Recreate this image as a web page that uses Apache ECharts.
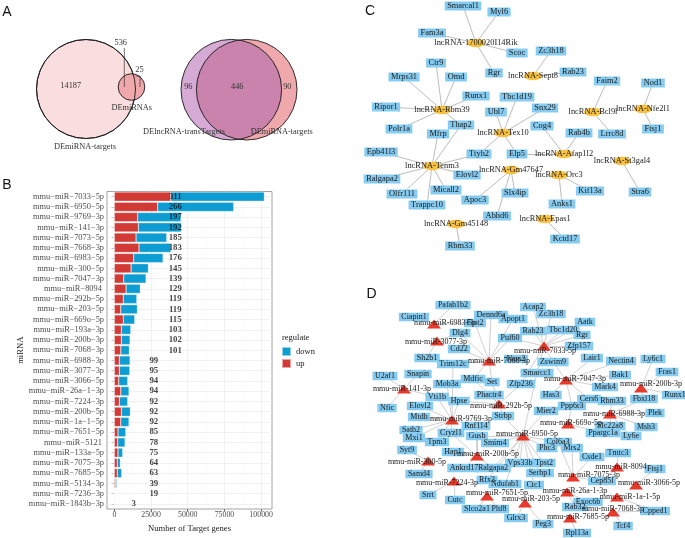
<!DOCTYPE html>
<html><head><meta charset="utf-8">
<script src="https://cdn.jsdelivr.net/npm/echarts@6/dist/echarts.min.js"></script>
<style>html,body{margin:0;padding:0;background:#fff}#c{width:685px;height:538px}</style>
</head><body><div id="c"></div>
<script>
// ---------- Panel B data ----------
const miRNAs = ['mmu−miR−7033−5p','mmu−miR−6950−5p','mmu−miR−9769−3p','mmu−miR−141−3p','mmu−miR−7073−5p','mmu−miR−7668−3p','mmu−miR−6983−5p','mmu−miR−300−5p','mmu−miR−7047−3p','mmu−miR−8094 ','mmu−miR−292b−5p','mmu−miR−203−5p','mmu−miR−669o−5p','mmu−miR−193a−3p','mmu−miR−200b−3p','mmu−miR−7068−3p','mmu−miR−6988−3p','mmu−miR−3077−3p','mmu−miR−3066−5p','mmu−miR−26a−1−3p','mmu−miR−7224−3p','mmu−miR−200b−5p','mmu−miR−1a−1−5p','mmu−miR−7651−5p','mmu−miR−5121 ','mmu−miR−133a−5p','mmu−miR−7075−3p','mmu−miR−7685−5p','mmu−miR−5134−3p','mmu−miR−7236−3p','mmu−miR−1843b−3p'];
const upCounts   = [38400,29500,15900,16400,14800,16800,13200,11400,6400,8000,6100,4400,6100,4800,4800,4400,3400,3400,3000,4400,3400,4800,4400,2500,2300,2500,2000,2000,700,300,0];
const downCounts = [63800,51800,29500,29200,20900,21800,20000,11800,15200,9700,9200,11300,7800,6400,5900,5800,7300,7100,6100,5600,5700,6100,5600,5300,5000,3200,2100,3000,900,200,200];
const targetLabels = [311,266,197,192,185,183,176,145,139,129,119,119,115,103,102,101,99,95,94,94,92,92,92,85,78,75,64,63,39,19,3];
const xTicks = [0,25000,50000,75000,100000];
const xGrid = [0,12500,25000,37500,50000,62500,75000,87500,100000];

// ---------- Panel A data ----------
const vennLeftCounts = [14187, 536, 25];
const vennLeftSets = ['DEmiRNA-targets','DEmiRNAs'];
const vennRightCounts = [96, 446, 90];
const vennRightSets = ['DElncRNA-transTargets','DEmiRNA-targets'];

// ---------- Panel C data ----------
const cLncRNAs = ['lncRNA-1700020I14Rik','lncRNA-Sept8','lncRNA-Rbm39','lncRNA-Tex10','lncRNA-Bcl9l','lncRNA-Nfe2l1','lncRNA-Afap1l2','lncRNA-St3gal4','lncRNA-Tenm3','lncRNA-Gm47647','lncRNA-Orc3','lncRNA-Gm45148','lncRNA-Epas1'];
const cLinks = [
 ['lncRNA-1700020I14Rik','Smarcal1'],['lncRNA-1700020I14Rik','Myl6'],['lncRNA-1700020I14Rik','Fam3a'],['lncRNA-1700020I14Rik','Scoc'],['lncRNA-1700020I14Rik','Rgr'],
 ['lncRNA-Sept8','Zc3h18'],['lncRNA-Sept8','Rab23'],
 ['lncRNA-Rbm39','Ctr9'],['lncRNA-Rbm39','Omd'],['lncRNA-Rbm39','Mrps31'],['lncRNA-Rbm39','Runx1'],['lncRNA-Rbm39','Ripor1'],['lncRNA-Rbm39','Polr1a'],['lncRNA-Rbm39','Thap2'],
 ['lncRNA-Tex10','Tbc1d19'],['lncRNA-Tex10','Ubl7'],['lncRNA-Tex10','Snx29'],['lncRNA-Tex10','Ttyh2'],['lncRNA-Tex10','Elp5'],
 ['lncRNA-Bcl9l','Faim2'],['lncRNA-Bcl9l','Lrrc8d'],
 ['lncRNA-Nfe2l1','Nod1'],['lncRNA-Nfe2l1','Ftsj1'],
 ['lncRNA-Afap1l2','Elp5'],['lncRNA-Afap1l2','Cog4'],['lncRNA-Afap1l2','Rab4b'],
 ['lncRNA-St3gal4','Stra6'],
 ['lncRNA-Tenm3','Mfrp'],['lncRNA-Tenm3','Thap2'],['lncRNA-Tenm3','Epb41l3'],['lncRNA-Tenm3','Ttyh2'],['lncRNA-Tenm3','Ralgapa2'],['lncRNA-Tenm3','Elovl2'],['lncRNA-Tenm3','Olfr111'],['lncRNA-Tenm3','Micall2'],['lncRNA-Tenm3','Trappc10'],
 ['lncRNA-Gm47647','Apoc3'],['lncRNA-Gm47647','Slx4ip'],['lncRNA-Gm47647','Abhd6'],
 ['lncRNA-Orc3','Kif13a'],['lncRNA-Orc3','Anks1'],
 ['lncRNA-Gm45148','Rbm33'],
 ['lncRNA-Epas1','Kctd17']
];

// ---------- Panel D data ----------
const dMiRNAs = ['mmu-miR-6983-5p','mmu-miR-3077-3p','mmu-miR-7668-3p','mmu-miR-7033-5p','mmu-miR-7047-3p','mmu-miR-200b-3p','mmu-miR-141-3p','mmu-miR-292b-5p','mmu-miR-9769-3p','mmu-miR-6988-3p','mmu-miR-669o-5p','mmu-miR-6950-5p','mmu-miR-200b-5p','mmu-miR-300-5p','mmu-miR-8094','mmu-miR-7075-3p','mmu-miR-3066-5p','mmu-miR-7224-3p','mmu-miR-26a-1-3p','mmu-miR-1a-1-5p','mmu-miR-7651-5p','mmu-miR-203-5p','mmu-miR-7068-3p','mmu-miR-7685-5p'];
const dTargets = {
 'mmu-miR-6983-5p':['Pafah1b2','Ciapin1','Flot2'],
 'mmu-miR-3077-3p':['Sh2b1','Dlg4'],
 'mmu-miR-7668-3p':['Dennd6a','Flot2','Apopt1','Dlg4','Cd22','Nars2','Trim12c','Mdfic','Puf60','Set'],
 'mmu-miR-7033-5p':['Acap2','Zc3h18','Rab23','Tbc1d20','Aatk','Rgr','Puf60','Zfp157','Zswim9','Smarcc1','Zfp236'],
 'mmu-miR-7047-3p':['Zswim9','Lair1','Nectin4','Bak1','Mark4','Has3','Cers6','Ppp6r3','Smarcc1'],
 'mmu-miR-200b-3p':['Ly6c1','Fras1','Runx1','Fbxl18'],
 'mmu-miR-141-3p':['U2af1','Snapin','Nfic','Vti1b'],
 'mmu-miR-292b-5p':['Phactr4','Set','Zfp236','Strbp','Hpse','Mdfic'],
 'mmu-miR-9769-3p':['Trim12c','Mob3a','Vti1b','Elovl2','Mtdh','Satb2','Mxi1','Tpm3','Cryzl1','Rnf114','Hpse'],
 'mmu-miR-6988-3p':['Rbm33','Fbxl18','Plek','Msh3','Ly6e','Slc22a8'],
 'mmu-miR-669o-5p':['Ppargc1a','Ppp6r3'],
 'mmu-miR-6950-5p':['Strbp','Mier2','Smarcc1','Smim4','Col6a3','Phc3','Tpst2','Serbp1','Ctc1','Vps33b','Ndufab1','Ralgapa2','Rfx3','Gusb'],
 'mmu-miR-200b-5p':['Hap1','Gusb','Cryzl1','Ankrd17','Ralgapa2','Rnf114'],
 'mmu-miR-300-5p':['Syt9','Samd4'],
 'mmu-miR-8094':['Tmtc3','Cep85l'],
 'mmu-miR-7075-3p':['Mrs2','Csde1','Cep85l','Col6a3'],
 'mmu-miR-3066-5p':['Ftsj1'],
 'mmu-miR-7224-3p':['Srrt','Cutc'],
 'mmu-miR-26a-1-3p':['Rab32','Exoc6b'],
 'mmu-miR-1a-1-5p':['Cpped1'],
 'mmu-miR-7651-5p':['Slco2a1','Phf8'],
 'mmu-miR-203-5p':['Glrx3','Peg3','Ndufab1'],
 'mmu-miR-7068-3p':['Tcf4','Cpped1'],
 'mmu-miR-7685-5p':['Rpl13a']
};

// ---------- layout (node placement, pixels on the page) ----------
const cLayout = {
 'lncRNA-1700020I14Rik':[476,43],'Smarcal1':[463,6],'Myl6':[499,12],'Fam3a':[432,33],'Scoc':[517,53],'Rgr':[494,73],
 'lncRNA-Sept8':[533,76],'Zc3h18':[551,51],'Rab23':[573,72],
 'lncRNA-Rbm39':[442,110],'Ctr9':[436,63],'Omd':[456,77],'Mrps31':[404,77],'Runx1':[476,96],'Ripor1':[386,107],'Polr1a':[399,129],'Thap2':[461,125],'Mfrp':[438,134],
 'lncRNA-Tex10':[503,133],'Tbc1d19':[517,97],'Ubl7':[496,112],'Snx29':[545,108],'Ttyh2':[479,154],'Elp5':[517,154],
 'lncRNA-Afap1l2':[564,154],'Cog4':[542,126],'Rab4b':[579,133],
 'lncRNA-Bcl9l':[593,112],'Faim2':[607,81],'Lrrc8d':[612,134],
 'lncRNA-Nfe2l1':[643,109],'Nod1':[653,83],'Ftsj1':[653,129],
 'lncRNA-St3gal4':[622,161],'Stra6':[640,192],
 'lncRNA-Tenm3':[432,166],'Epb41l3':[381,152],'Ralgapa2':[382,179],'Elovl2':[467,175],'Olfr111':[402,194],'Micall2':[446,190],'Trappc10':[427,205],
 'lncRNA-Gm47647':[511,170],'Apoc3':[475,200],'Slx4ip':[515,193],'Abhd6':[497,216],
 'lncRNA-Orc3':[559,175],'Kif13a':[590,191],'Anks1':[562,204],
 'lncRNA-Gm45148':[456,224],'Rbm33':[460,246],
 'lncRNA-Epas1':[545,219],'Kctd17':[565,239]
};
const dLayout = {
 'mmu-miR-6983-5p':[434,324,445,323],'mmu-miR-3077-3p':[437,341,436,342],'mmu-miR-7668-3p':[489,361,499,361],'mmu-miR-7033-5p':[544,346,545,351],
 'mmu-miR-7047-3p':[566,380,575,379],'mmu-miR-200b-3p':[641,388,651,384],'mmu-miR-141-3p':[404,389,402,389],'mmu-miR-292b-5p':[499,404,501,406],
 'mmu-miR-9769-3p':[452,420,461,419],'mmu-miR-6988-3p':[610,414,614,414],'mmu-miR-669o-5p':[568,424,571,423],'mmu-miR-6950-5p':[523,436,527,434],
 'mmu-miR-200b-5p':[477,456,488,454],'mmu-miR-300-5p':[428,461,417,462],'mmu-miR-8094':[617,467,621,467],'mmu-miR-7075-3p':[573,477,589,475],
 'mmu-miR-3066-5p':[636,485,649,483],'mmu-miR-7224-3p':[454,481,447,483],'mmu-miR-26a-1-3p':[567,492,575,491],'mmu-miR-1a-1-5p':[617,497,630,497],
 'mmu-miR-7651-5p':[487,496,497,493],'mmu-miR-203-5p':[525,503,531,499],'mmu-miR-7068-3p':[613,512,613,509],'mmu-miR-7685-5p':[570,518,578,517],
 'Pafah1b2':[453,305],'Ciapin1':[414,317],'Dennd6a':[491,315],'Flot2':[475,323],'Apopt1':[513,319],'Acap2':[533,307],'Zc3h18':[551,314],'Rab23':[533,331],
 'Tbc1d20':[563,330],'Aatk':[585,322],'Rgr':[582,335],'Dlg4':[460,333],'Puf60':[510,338],'Zfp157':[579,346],'Cd22':[459,349],'Sh2b1':[427,358],
 'Nars2':[516,359],'Trim12c':[453,364],'Zswim9':[553,362],'Lair1':[592,358],'Nectin4':[621,361],'Ly6c1':[653,359],'U2af1':[385,376],'Snapin':[418,374],
 'Smarcc1':[537,373],'Bak1':[620,375],'Fras1':[667,372],'Mob3a':[447,384],'Mdfic':[473,379],'Set':[492,382],'Mark4':[605,387],'Runx1':[675,395],
 'Zfp236':[521,384],'Vti1b':[437,397],'Phactr4':[489,395],'Has3':[551,395],'Cers6':[589,399],'Rbm33':[612,401],'Fbxl18':[644,399],'Nfic':[387,408],
 'Elovl2':[420,406],'Hpse':[459,401],'Ppp6r3':[572,406],'Mier2':[546,411],'Mtdh':[419,417],'Strbp':[503,416],'Plek':[655,413],'Satb2':[411,430],
 'Rnf114':[476,426],'Slc22a8':[610,426],'Msh3':[646,427],'Cryzl1':[451,433],'Ppargc1a':[603,433],'Ly6e':[631,436],'Mxi1':[414,438],'Tpm3':[437,442],
 'Gusb':[477,436],'Smim4':[495,443],'Col6a3':[558,442],'Hap1':[453,452],'Phc3':[547,448],'Mrs2':[572,448],'Syt9':[407,450],'Csde1':[592,457],
 'Tmtc3':[618,453],'Vps33b':[520,463],'Tpst2':[544,463],'Ankrd17':[464,468],'Ralgapa2':[493,468],'Ftsj1':[655,469],'Samd4':[419,474],'Serbp1':[540,473],
 'Cep85l':[602,481],'Rfx3':[487,480],'Ndufab1':[505,484],'Ctc1':[534,485],'Srrt':[428,495],'Cutc':[455,500],'Exoc6b':[588,502],'Rab32':[575,507],
 'Cpped1':[655,511],'Slco2a1':[477,509],'Phf8':[499,509],'Glrx3':[516,518],'Peg3':[543,524],'Tcf4':[623,526],'Rpl13a':[577,533]
};

// ---------- styles ----------
const SERIF = 'Liberation Serif';
const UP = '#D23A36', DOWN = '#0E9DD3';
const BOX = '#86CBF0', ORANGE = '#F8C141', TRI = '#E63A2C';
const mctx = document.createElement('canvas').getContext('2d');
function textW(t, size){ mctx.font = size + 'px "' + SERIF + '"'; return mctx.measureText(t).width; }

// label x position depends on number of digits (as in reference)
function labelX(n){ const d = String(n).length; return d >= 3 ? 41500 : (d === 2 ? 26900 : 13200); }

// ---------- network C ----------
const cGenes = [];
cLinks.forEach(l => { if (!cGenes.includes(l[1])) cGenes.push(l[1]); });
const cNodes = [];
cGenes.forEach(g => cNodes.push({
  name: g, value: cLayout[g], symbol: 'rect', symbolSize: [textW(g, 8.4) + 5, 9],
  itemStyle: { color: BOX }, label: { show: true, position: 'inside', color: '#1a1a1a', fontFamily: SERIF, fontSize: 8.4 }
}));
cLncRNAs.forEach(n => cNodes.push({
  name: n, value: cLayout[n], symbol: 'circle', symbolSize: [18, 8.5],
  itemStyle: { color: ORANGE }, label: { show: true, position: 'inside', color: '#1a1a1a', fontFamily: SERIF, fontSize: 8.4 }
}));

// ---------- network D ----------
const dGenes = [], dLinks = [];
dMiRNAs.forEach(m => dTargets[m].forEach(g => { if (!dGenes.includes(g)) dGenes.push(g); dLinks.push({ source: m, target: g }); }));
const dNodes = [];
dMiRNAs.forEach(m => { const p = dLayout[m]; dNodes.push({
  name: m, value: [p[0], p[1]], symbol: 'triangle', symbolSize: [14, 9],
  itemStyle: { color: TRI }, label: { show: true, position: 'inside', offset: [p[2]-p[0], p[3]-p[1]], color: '#1a1a1a', fontFamily: SERIF, fontSize: 8 }
}); });
dGenes.forEach(g => dNodes.push({
  name: g, value: dLayout[g], symbol: 'rect', symbolSize: [textW(g, 8) + 5, 8.5],
  itemStyle: { color: BOX }, label: { show: true, position: 'inside', color: '#1a1a1a', fontFamily: SERIF, fontSize: 8 }
}));

// ---------- graphic (panel A + letters) ----------
function txt(x, y, t, size){ return { type: 'text', x: x, y: y, silent: true,
  style: { text: t, fill: '#333', font: size + 'px "' + SERIF + '"', align: 'center', verticalAlign: 'middle', textAlign: 'center', textVerticalAlign: 'middle' } }; }
function letter(x, y, t){ return { type: 'text', x: x, y: y, silent: true, style: { text: t, fill: '#111', font: '14px "Liberation Sans"', align: 'center', verticalAlign: 'middle', textAlign: 'center', textVerticalAlign: 'middle' } }; }
const L = { cx: 231.3, cy: 89.7, r: 50.3 }, R = { cx: 246.7, cy: 89.7, r: 50.3 };
// lens (intersection of the two circles) as a polygon
const th = Math.acos(((R.cx - L.cx) / 2) / L.r);
const lensPts = [];
for (let k = 0; k <= 40; k++) { const a = -th + 2 * th * k / 40; lensPts.push([L.cx + L.r * Math.cos(a), L.cy + L.r * Math.sin(a)]); }
for (let k = 0; k <= 40; k++) { const a = Math.PI - th + 2 * th * k / 40; lensPts.push([R.cx + R.r * Math.cos(a), R.cy + R.r * Math.sin(a)]); }
const graphics = [
  letter(7, 12, 'A'), letter(7, 185, 'B'), letter(370, 11, 'C'), letter(371.5, 294, 'D'),
  { type: 'circle', shape: { cx: 86, cy: 89, r: 49.5 }, style: { fill: '#FADDDE', stroke: '#1a1a1a', lineWidth: 0.9 }, silent: true },
  { type: 'circle', shape: { cx: 131.5, cy: 87, r: 13.3 }, style: { fill: '#EFA9AC', stroke: '#1a1a1a', lineWidth: 0.9 }, silent: true },
  { type: 'circle', shape: { cx: 86, cy: 89, r: 49.5 }, style: { fill: 'none', stroke: '#1a1a1a', lineWidth: 0.9 }, silent: true },
  { type: 'line', shape: { x1: 124.3, y1: 48, x2: 124.3, y2: 87 }, style: { stroke: '#1a1a1a', lineWidth: 0.6 }, silent: true },
  { type: 'polyline', shape: { points: [[135.5, 76], [140, 76], [140, 87]] }, style: { stroke: '#1a1a1a', lineWidth: 0.6, fill: 'none' }, silent: true },
  txt(70.7, 85.7, String(vennLeftCounts[0]), 8.3), txt(120.7, 43.3, String(vennLeftCounts[1]), 8.3), txt(139.5, 70, String(vennLeftCounts[2]), 8.3),
  txt(131.7, 108.3, vennLeftSets[1], 8.3), txt(85, 146.7, vennLeftSets[0], 8.3),
  { type: 'circle', shape: L, style: { fill: '#D5AAD4' }, silent: true },
  { type: 'circle', shape: R, style: { fill: '#EFA8AC' }, silent: true },
  { type: 'polygon', shape: { points: lensPts }, style: { fill: '#C983AC' }, silent: true },
  { type: 'circle', shape: L, style: { fill: 'none', stroke: '#1a1a1a', lineWidth: 0.9 }, silent: true },
  { type: 'circle', shape: R, style: { fill: 'none', stroke: '#1a1a1a', lineWidth: 0.9 }, silent: true },
  txt(188.3, 87.3, String(vennRightCounts[0]), 8.3), txt(237.3, 87.3, String(vennRightCounts[1]), 8.3), txt(287.3, 87.3, String(vennRightCounts[2]), 8.3),
  txt(184, 131.7, vennRightSets[0], 8.3), txt(281.7, 131.7, vennRightSets[1], 8.3),
  { type: 'text', x: 282, y: 338, silent: true, style: { text: 'regulate', fill: '#1a1a1a', font: '8.5px "' + SERIF + '"', align: 'left', verticalAlign: 'middle', textAlign: 'left', textVerticalAlign: 'middle' } }
];

const gridLines = xGrid.map((v, i) => ({ xAxis: v, lineStyle: { color: i % 2 ? '#F3F3F3' : '#EBEBEB', width: i % 2 ? 0.4 : 0.7, type: 'solid' } }))
  .concat(miRNAs.map(n => ({ yAxis: n, lineStyle: { color: '#EBEBEB', width: 0.7, type: 'solid' } })));

const chart = echarts.init(document.getElementById('c'), null, { renderer: 'canvas' });
chart.setOption({
  animation: false,
  backgroundColor: '#fff',
  grid: [
    { left: 107, top: 191.5, width: 165, height: 318, show: true, borderColor: '#8a8a8a', borderWidth: 0.8, backgroundColor: '#fff' },
    { left: 0, top: 0, width: 685, height: 538 }
  ],
  xAxis: [
    { gridIndex: 0, type: 'value', min: -5000, max: 107400,
      axisLine: { show: false }, splitLine: { show: false },
      axisTick: { show: true, customValues: xTicks, length: 2.5, lineStyle: { color: '#333', width: 0.7 } },
      axisLabel: { customValues: xTicks, formatter: v => String(v), margin: 2, color: '#4d4d4d', fontFamily: SERIF, fontSize: 7.8 },
      name: 'Number of Target genes', nameLocation: 'middle', nameGap: 15,
      nameTextStyle: { color: '#1a1a1a', fontFamily: SERIF, fontSize: 8.6 } },
    { gridIndex: 1, type: 'value', min: 0, max: 685, show: false }
  ],
  yAxis: [
    { gridIndex: 0, type: 'category', data: miRNAs, inverse: true,
      axisLine: { show: false }, splitLine: { show: false },
      axisTick: { show: true, alignWithLabel: true, interval: 0, length: 2.5, lineStyle: { color: '#333', width: 0.7 } },
      axisLabel: { interval: 0, margin: 3, color: '#4d4d4d', fontFamily: SERIF, fontSize: 8.4 },
      name: 'miRNA', nameLocation: 'middle', nameGap: 81,
      nameTextStyle: { color: '#1a1a1a', fontFamily: SERIF, fontSize: 8.6 } },
    { gridIndex: 1, type: 'value', min: 0, max: 538, inverse: true, show: false }
  ],
  legend: { data: [{ name: 'down', icon: 'rect' }, { name: 'up', icon: 'rect' }], orient: 'vertical', left: 281, top: 346,
    itemWidth: 9, itemHeight: 9, itemGap: 1, padding: 0, selectedMode: false,
    textStyle: { color: '#1a1a1a', fontFamily: SERIF, fontSize: 8.5 } },
  graphic: graphics,
  series: [
    { name: 'up', type: 'bar', xAxisIndex: 0, yAxisIndex: 0, stack: 'n', data: upCounts, barWidth: '90%', z: 3,
      itemStyle: { color: UP, borderColor: 'rgba(255,255,255,0.55)', borderWidth: 0.5 },
      markLine: { z: 1, silent: true, symbol: ['none', 'none'], label: { show: false }, data: gridLines, animation: false } },
    { name: 'down', type: 'bar', xAxisIndex: 0, yAxisIndex: 0, stack: 'n', data: downCounts, barWidth: '90%', z: 3,
      itemStyle: { color: DOWN, borderColor: 'rgba(255,255,255,0.55)', borderWidth: 0.5 } },
    { name: 'labels', type: 'scatter', xAxisIndex: 0, yAxisIndex: 0, z: 5, silent: true, symbolSize: 1,
      itemStyle: { color: 'rgba(0,0,0,0)' },
      data: targetLabels.map((n, i) => [labelX(n), i, n]),
      label: { show: true, position: 'inside', formatter: p => p.value[2], color: '#111', fontFamily: SERIF, fontSize: 8.8, fontWeight: 'bold' } },
    { name: 'netC', type: 'graph', coordinateSystem: 'cartesian2d', xAxisIndex: 1, yAxisIndex: 1, silent: true, z: 3,
      data: cNodes, links: cLinks.map(l => ({ source: l[0], target: l[1] })),
      lineStyle: { color: '#8f8f8f', width: 0.6, opacity: 1, curveness: 0 } },
    { name: 'netD', type: 'graph', coordinateSystem: 'cartesian2d', xAxisIndex: 1, yAxisIndex: 1, silent: true, z: 3,
      data: dNodes, links: dLinks,
      lineStyle: { color: '#a8a8a8', width: 0.55, opacity: 1, curveness: 0 } }
  ]
});
</script>
</body></html>
